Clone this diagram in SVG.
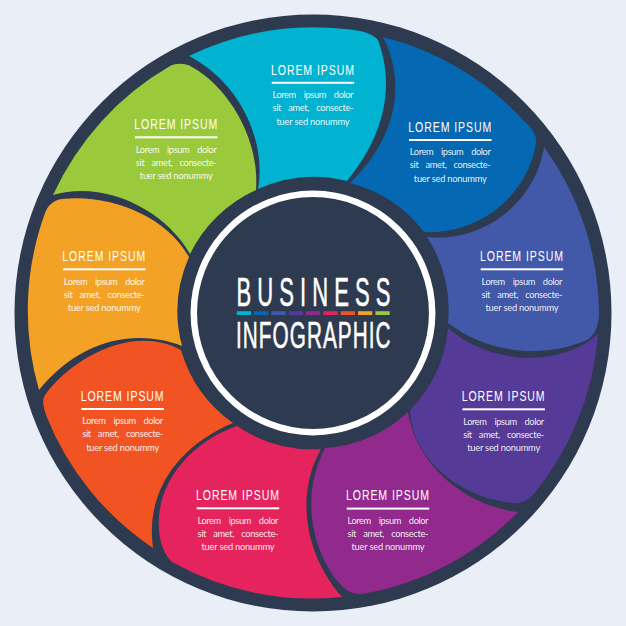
<svg xmlns="http://www.w3.org/2000/svg" width="626" height="626" viewBox="0 0 626 626">
<style>
.t{font-family:"Liberation Sans",Arial,sans-serif;font-size:15.5px;fill:#fff}
.b{font-family:"Lato","Open Sans",sans-serif;font-size:9.3px;fill:#fff;fill-opacity:.92}
.r{fill:#fff}
.c{font-family:"Liberation Sans",Arial,sans-serif;fill:#fff;stroke:#fff;stroke-width:.6px}
</style>
<defs>
<g id="lbl">
<text class="t" transform="scale(.68,1)" x="0" y="0" textLength="122" lengthAdjust="spacing">LOREM IPSUM</text>
<rect class="r" x="0.7" y="7.3" width="82.5" height="2"/>
<text class="b" x="1.5" y="23.5" textLength="81" lengthAdjust="spacing" word-spacing="6">Lorem ipsum dolor</text>
<text class="b" x="1.5" y="36.8" textLength="81" lengthAdjust="spacing" word-spacing="5">sit amet, consecte-</text>
<text class="b" x="5.5" y="50" textLength="73" lengthAdjust="spacing">tuer sed nonummy</text>
</g>
</defs>
<rect width="626" height="626" fill="#e9eef7"/>
<circle id="ring" cx="313" cy="313" r="298.5" fill="#2d3a4f"/>
<g id="cyan">
<path fill="#02b2d1" d="M189,56 A286,286 0 0 1 345,29 C360,30 372,33 378,40 C395,85 385,135 347,181 A135,135 0 0 0 258,189 C266,145 244,85 189,56 Z"/>
<use href="#lbl" x="271" y="74.5"/>
</g>
<g id="green">
<path fill="#9ac93c" d="M53,195 A286,286 0 0 1 170,66 C177,63 185,63 192,67 C225,85 260,135 256,190 A135,135 0 0 0 190,254 C165,210 105,180 53,195 Z"/>
<use href="#lbl" x="134.3" y="129"/>
</g>
<g id="amber">
<path fill="#f3a225" d="M45,213 C48,205 54,200 62,199 C110,194 165,215 189,257 A135,135 0 0 0 182,346 C135,328 80,340 39,390 A286,286 0 0 1 45,213 Z"/>
<use href="#lbl" x="62.3" y="261"/>
</g>
<g id="orange">
<path fill="#f15323" d="M46,415 C43,405 42,400 45,395 C75,355 135,325 181,350 A135,135 0 0 0 233,423 C180,445 145,490 153,548 A286,286 0 0 1 46,415 Z"/>
<use href="#lbl" x="80.7" y="400.7"/>
</g>
<g id="pink">
<path fill="#e5235c" d="M237,426 C195,440 155,480 159,530 C160,545 165,555 172,562 A286,286 0 0 0 342,597 C305,555 295,495 321,449 A135,135 0 0 1 237,426 Z"/>
<use href="#lbl" x="196" y="500"/>
</g>
<g id="magenta">
<path fill="#912a8c" d="M325,448 A135,135 0 0 0 408,412 C415,460 460,505 518,512 A286,286 0 0 1 363,594 C352,595 345,590 338,582 C312,550 300,495 325,448 Z"/>
<use href="#lbl" x="346" y="500.3"/>
</g>
<g id="violet">
<path fill="#563a98" d="M410,410 A135,135 0 0 0 448,328 C490,365 560,368 598,334 A286,286 0 0 1 533,495 C527,501 520,504 512,503 C460,497 412,460 410,410 Z"/>
<use href="#lbl" x="461.7" y="401"/>
</g>
<g id="indigo">
<path fill="#4258a8" d="M544,147 A286,286 0 0 1 599,313 C599,325 595,335 587,340 C545,358 490,355 448,323 A135,135 0 0 0 427,237 C480,243 535,205 544,147 Z"/>
<use href="#lbl" x="480" y="261"/>
</g>
<g id="blue">
<path fill="#0468b2" d="M383,37 A286,286 0 0 1 525,122 C532,128 537,135 536,143 C528,195 480,235 424,232 A135,135 0 0 0 350,183 C390,145 410,90 383,37 Z"/>
<use href="#lbl" x="408.3" y="131.7"/>
</g>
<g id="center">
<circle cx="313" cy="313" r="134.5" fill="#2d3a4f"/>
<circle cx="313" cy="313" r="119.2" fill="none" stroke="#fff" stroke-width="6.5"/>
<text class="c" transform="translate(236.5,306) scale(.55,1)" font-size="40" textLength="280" lengthAdjust="spacing">BUSINESS</text>
<rect x="236.7" y="311.2" width="14.3" height="3.8" fill="#02b2d1"/>
<rect x="254" y="311.2" width="14.3" height="3.8" fill="#0468b2"/>
<rect x="271.4" y="311.2" width="14.3" height="3.8" fill="#4258a8"/>
<rect x="288.7" y="311.2" width="14.3" height="3.8" fill="#563a98"/>
<rect x="306" y="311.2" width="14.3" height="3.8" fill="#912a8c"/>
<rect x="323.4" y="311.2" width="14.3" height="3.8" fill="#e5235c"/>
<rect x="340.7" y="311.2" width="14.3" height="3.8" fill="#f15323"/>
<rect x="358" y="311.2" width="14.3" height="3.8" fill="#f3a225"/>
<rect x="375.4" y="311.2" width="14.3" height="3.8" fill="#9ac93c"/>
<text class="c" transform="translate(236,348) scale(.56,1)" font-size="37" textLength="276" lengthAdjust="spacing">INFOGRAPHIC</text>
</g>
</svg>
